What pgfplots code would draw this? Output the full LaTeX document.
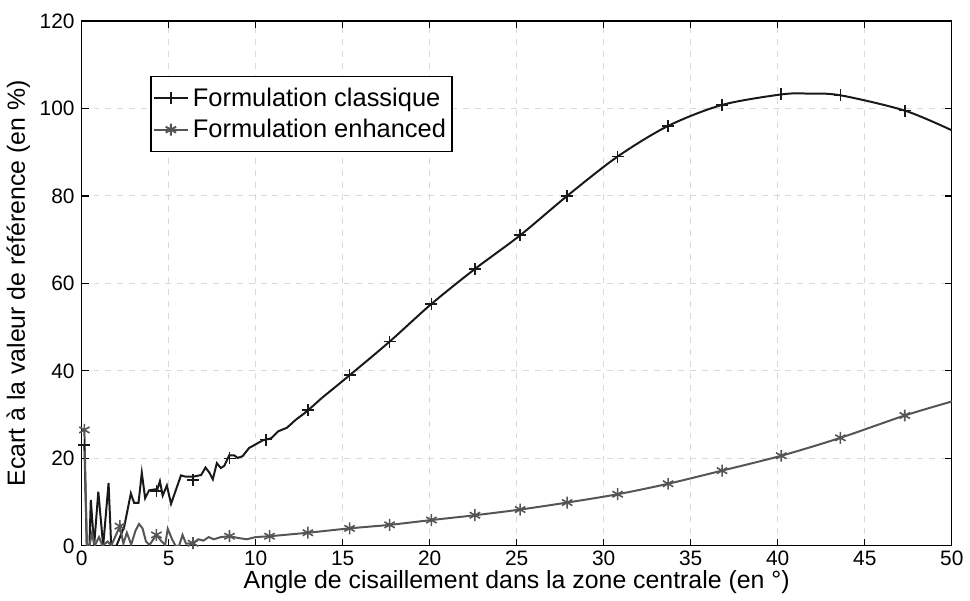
\documentclass[border=0pt]{standalone}
\usepackage{pgfplots}
\pgfplotsset{compat=1.18}
\usepackage{fontspec}
\setmainfont{Liberation Sans}

\definecolor{classic}{RGB}{25,25,25}
\definecolor{enhanced}{RGB}{85,85,85}

\begin{document}
\begin{tikzpicture}
\begin{axis}[
    width=436bp, height=263bp, scale only axis,
    xmin=0, xmax=50, ymin=0, ymax=120,
    xtick={0,5,...,50}, ytick={0,20,...,120},
    tick align=inside, major tick length=3.5bp,
    xtick pos=both, ytick pos=both,
    grid=major,
    major grid style={dashed, gray!30, line width=0.5pt},
    axis line style={line width=0.6pt},
    tick style={line width=0.6pt, black},
    ticklabel style={font=\fontsize{10.5}{12}\selectfont},
    xticklabel style={yshift=1bp},
    /pgf/number format/assume math mode=true,
    xlabel={Angle de cisaillement dans la zone centrale (en °)},
    ylabel={Ecart à la valeur de référence (en \%)},
    label style={font=\fontsize{12.5}{14}\selectfont},
    xlabel style={yshift=4.5bp},
    ylabel style={yshift=-2bp},
    legend style={at={(0.079,0.895)}, anchor=north west,
        font=\fontsize{12.8}{16}\selectfont, draw=black,
        line width=0.6pt, inner xsep=1pt, inner ysep=3pt,
        nodes={inner ysep=2.5pt},
        legend cell align=left},
    legend image post style={line width=1pt},
]
% legend entries
\addlegendimage{classic, line width=1pt, mark=+, mark size=3bp}
\addlegendentry{Formulation classique}
\addlegendimage{enhanced, line width=1pt, mark=asterisk, mark size=3bp}
\addlegendentry{Formulation enhanced}

% Formulation classique: noisy start
\addplot[classic, line width=1pt, forget plot] coordinates {
(0.16,23) (0.3,0) (0.45,0) (0.53,10.5) (0.72,0) (0.96,12.4) (1.24,0)
(1.55,14.4) (1.7,0) (2.0,0) (2.45,4.4) (2.83,12) (3.02,9.8) (3.27,9.8)
(3.46,16.7) (3.65,10.9) (3.88,12.7) (4.36,13) (4.5,14.8) (4.66,11.5)
(4.9,13.8) (5.14,9.6) (5.71,16.1) (6.0,15.8) (6.4,15.8) (6.87,16.2)
(7.12,17.9) (7.35,16.7) (7.54,15.2) (7.77,18.9) (8.0,17.8) (8.2,18.3)
(8.48,20.7) (8.77,20.7) (8.96,20.1) (9.25,20.5) (9.63,22.4) (9.82,22.8)
(10.4,24.1) (10.9,24.6) (11.3,26.2) (11.8,27.0) (12.3,28.8) (12.8,30.3)
(13.3,32.0) (13.8,33.8)
};
\addplot[classic, line width=1pt, smooth, forget plot] coordinates {
(13.8,33.8) (15.4,39) (17.7,46.7) (20.1,55.3) (22.6,63.3) (25.2,71)
(27.9,80) (30.8,89) (33.7,96) (36.8,100.8) (40.2,103.2) (41.7,103.4)
(43.6,103) (47.3,99.5) (50,95)
};
\addplot[classic, only marks, mark=+, mark size=3bp, line width=0.8pt, forget plot] coordinates {
(0.16,23) (4.3,12.5) (6.4,15) (8.5,20) (10.6,24.3) (13,31) (15.4,39)
(17.7,46.7) (20.1,55.3) (22.6,63.3) (25.2,71) (27.9,80) (30.8,89)
(33.7,96) (36.8,100.8) (40.2,103.2) (43.6,103) (47.3,99.5)
};

% Formulation enhanced
\addplot[enhanced, line width=1pt, forget plot] coordinates {
(0.16,26.5) (0.3,0) (0.45,0) (0.6,3) (0.75,0) (1.0,2) (1.2,0) (1.5,1)
(1.7,0) (2.2,4.5) (2.4,0.5) (2.6,3) (2.85,0.3) (3.1,3.5) (3.3,5)
(3.5,4) (3.7,1) (3.9,0.2) (4.3,2.5) (4.6,1) (4.8,0.2) (4.95,3.9)
(5.2,1.5) (5.4,0) (5.6,0) (5.8,2.5) (6.0,0.5) (6.4,0.6) (6.7,1.5)
(7.0,1.2) (7.3,2) (7.6,1.5) (8.0,2) (8.5,2.2) (9.0,1.8) (9.5,1.5)
(10.0,2) (10.8,2.2)
};
\addplot[enhanced, line width=1pt, smooth, forget plot] coordinates {
(10.8,2.2) (13,3) (15.4,4) (17.7,4.8) (20.1,5.9) (22.6,7) (25.2,8.3)
(27.9,9.9) (30.8,11.8) (33.7,14.2) (36.8,17.2) (40.2,20.6) (43.6,24.7)
(47.3,29.8) (50,33)
};
\addplot[enhanced, only marks, mark=asterisk, mark size=3bp, line width=0.8pt, forget plot] coordinates {
(0.16,26.5) (2.2,4.5) (4.3,2.5) (6.4,0.6) (8.5,2.2) (10.8,2.2) (13,3)
(15.4,4) (17.7,4.8) (20.1,5.9) (22.6,7) (25.2,8.3) (27.9,9.9) (30.8,11.8)
(33.7,14.2) (36.8,17.2) (40.2,20.6) (43.6,24.7) (47.3,29.8)
};
\end{axis}
\path ([yshift=10.5bp]current axis.north);
\end{tikzpicture}
\end{document}
